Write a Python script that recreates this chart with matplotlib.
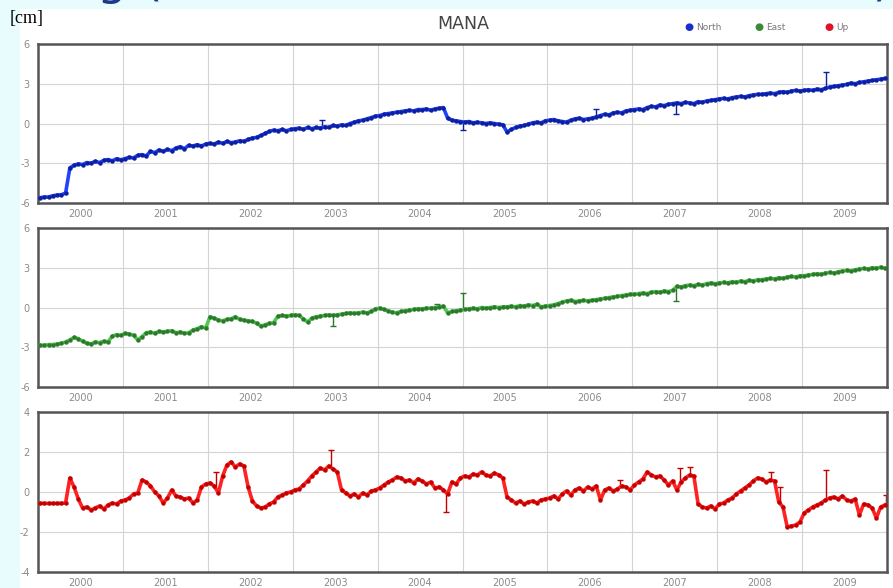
import numpy as np
import matplotlib
matplotlib.use("Agg")
import matplotlib.pyplot as plt
from matplotlib.patches import Rectangle

# ── Data (cm), sampled every 0.05 yr from 2000.025 ───────────────────────────
T0, DT, N = 2000.025, 0.05, 200

north = [
    -5.60, -5.55, -5.55, -5.45, -5.40, -5.38, -5.25, -3.35, -3.15, -3.05,
    -3.10, -2.95, -3.00, -2.85, -2.95, -2.78, -2.72, -2.82, -2.66, -2.74,
    -2.65, -2.55, -2.60, -2.40, -2.35, -2.45, -2.10, -2.20, -2.00, -2.10,
    -1.95, -2.05, -1.85, -1.75, -1.90, -1.65, -1.70, -1.60, -1.70, -1.55,
    -1.50, -1.55, -1.40, -1.50, -1.35, -1.45, -1.40, -1.30, -1.35, -1.20,
    -1.10, -1.05, -0.90, -0.75, -0.60, -0.50, -0.55, -0.45, -0.55, -0.45,
    -0.40, -0.35, -0.45, -0.30, -0.40, -0.30, -0.35, -0.25, -0.30, -0.15,
    -0.20, -0.10, -0.15, 0.00, 0.10, 0.20, 0.25, 0.35, 0.45, 0.55,
    0.60, 0.70, 0.75, 0.80, 0.85, 0.90, 0.95, 1.00, 0.95, 1.05,
    1.05, 1.10, 1.00, 1.10, 1.15, 1.20, 0.40, 0.25, 0.20, 0.15,
    0.10, 0.15, 0.05, 0.10, 0.05, 0.00, 0.05, 0.00, -0.05, -0.10,
    -0.65, -0.45, -0.30, -0.20, -0.15, -0.05, 0.05, 0.10, 0.05, 0.20,
    0.25, 0.30, 0.20, 0.15, 0.10, 0.25, 0.35, 0.40, 0.30, 0.35,
    0.40, 0.50, 0.60, 0.70, 0.65, 0.80, 0.85, 0.80, 0.95, 1.00,
    1.05, 1.10, 1.05, 1.20, 1.30, 1.25, 1.40, 1.35, 1.45, 1.50,
    1.55, 1.50, 1.60, 1.55, 1.50, 1.65, 1.60, 1.70, 1.75, 1.80,
    1.85, 1.90, 1.85, 1.95, 2.00, 2.05, 2.00, 2.10, 2.15, 2.20,
    2.20, 2.25, 2.30, 2.25, 2.35, 2.40, 2.35, 2.45, 2.50, 2.45,
    2.50, 2.55, 2.50, 2.60, 2.55, 2.65, 2.75, 2.80, 2.85, 2.90,
    2.95, 3.05, 3.00, 3.10, 3.15, 3.20, 3.25, 3.30, 3.35, 3.40,
]

east = [
    -2.85, -2.85, -2.80, -2.80, -2.75, -2.70, -2.60, -2.45, -2.25, -2.35,
    -2.55, -2.70, -2.75, -2.60, -2.65, -2.55, -2.60, -2.15, -2.05, -2.10,
    -1.95, -2.00, -2.10, -2.45, -2.20, -1.90, -1.85, -1.95, -1.80, -1.85,
    -1.80, -1.75, -1.90, -1.85, -1.95, -1.90, -1.70, -1.60, -1.45, -1.55,
    -0.70, -0.80, -0.95, -1.00, -0.90, -0.85, -0.70, -0.90, -0.95, -1.00,
    -1.05, -1.20, -1.40, -1.30, -1.20, -1.15, -0.65, -0.60, -0.65, -0.60,
    -0.55, -0.60, -0.85, -1.10, -0.80, -0.70, -0.65, -0.60, -0.55, -0.60,
    -0.55, -0.50, -0.45, -0.40, -0.45, -0.40, -0.35, -0.40, -0.30, -0.10,
    -0.05, -0.15, -0.25, -0.35, -0.40, -0.30, -0.25, -0.20, -0.15, -0.10,
    -0.10, -0.05, -0.05, 0.00, 0.05, 0.10, -0.40, -0.30, -0.25, -0.20,
    -0.15, -0.10, -0.05, -0.10, 0.00, -0.05, 0.00, 0.05, 0.00, 0.05,
    0.05, 0.10, 0.05, 0.15, 0.10, 0.20, 0.15, 0.25, 0.05, 0.10,
    0.15, 0.20, 0.30, 0.40, 0.50, 0.55, 0.45, 0.50, 0.55, 0.50,
    0.55, 0.60, 0.65, 0.70, 0.75, 0.80, 0.85, 0.90, 0.95, 1.00,
    1.00, 1.05, 1.10, 1.05, 1.15, 1.20, 1.15, 1.25, 1.20, 1.30,
    1.60, 1.55, 1.65, 1.70, 1.65, 1.75, 1.70, 1.80, 1.85, 1.80,
    1.85, 1.90, 1.85, 1.95, 1.90, 2.00, 1.95, 2.05, 2.00, 2.10,
    2.10, 2.15, 2.20, 2.15, 2.25, 2.20, 2.30, 2.35, 2.30, 2.40,
    2.40, 2.45, 2.50, 2.55, 2.50, 2.60, 2.65, 2.60, 2.70, 2.75,
    2.80, 2.75, 2.85, 2.90, 2.95, 2.90, 3.00, 2.95, 3.05, 2.95,
]

up = [
    -0.57, -0.57, -0.57, -0.57, -0.57, -0.57, -0.55, 0.70, 0.25, -0.35,
    -0.80, -0.75, -0.90, -0.80, -0.70, -0.85, -0.65, -0.55, -0.60, -0.45,
    -0.40, -0.30, -0.10, -0.05, 0.60, 0.50, 0.30, 0.00, -0.20, -0.55,
    -0.30, 0.10, -0.20, -0.25, -0.35, -0.30, -0.55, -0.40, 0.25, 0.40,
    0.45, 0.30, -0.05, 0.80, 1.35, 1.50, 1.25, 1.40, 1.30, 0.25,
    -0.45, -0.70, -0.80, -0.75, -0.60, -0.50, -0.25, -0.15, -0.05, 0.00,
    0.10, 0.15, 0.35, 0.55, 0.80, 1.00, 1.20, 1.10, 1.30, 1.15,
    1.00, 0.10, -0.05, -0.20, -0.10, -0.25, -0.05, -0.15, 0.05, 0.10,
    0.20, 0.35, 0.50, 0.60, 0.75, 0.70, 0.55, 0.60, 0.45, 0.65,
    0.55, 0.40, 0.50, 0.20, 0.25, 0.10, -0.10, 0.50, 0.40, 0.70,
    0.80, 0.75, 0.90, 0.85, 1.00, 0.85, 0.80, 0.95, 0.85, 0.70,
    -0.25, -0.40, -0.55, -0.45, -0.60, -0.50, -0.45, -0.55, -0.40, -0.35,
    -0.30, -0.20, -0.35, -0.10, 0.05, -0.15, 0.10, 0.20, 0.05, 0.25,
    0.15, 0.30, -0.40, 0.10, 0.20, 0.05, 0.15, 0.30, 0.25, 0.10,
    0.35, 0.50, 0.65, 1.00, 0.85, 0.75, 0.80, 0.60, 0.35, 0.55,
    0.10, 0.50, 0.70, 0.85, 0.80, -0.60, -0.75, -0.80, -0.70, -0.85,
    -0.60, -0.55, -0.40, -0.30, -0.10, 0.05, 0.20, 0.35, 0.55, 0.70,
    0.65, 0.50, 0.60, 0.55, -0.50, -0.75, -1.75, -1.70, -1.65, -1.50,
    -1.05, -0.90, -0.75, -0.65, -0.55, -0.40, -0.30, -0.25, -0.35, -0.20,
    -0.40, -0.45, -0.35, -1.15, -0.60, -0.65, -0.80, -1.30, -0.75, -0.65,
]

# outlier epochs and tip values
north_spk_t = [2003.35, 2005.00, 2006.57, 2007.52, 2009.28]
north_spk_v = [0.30, -0.50, 1.10, 0.70, 3.90]
east_spk_t = [2003.47, 2004.70, 2005.00, 2007.52]
east_spk_v = [-1.40, 0.25, 1.10, 0.50]
up_spk_t = [2002.10, 2003.45, 2004.80, 2006.85, 2007.56, 2007.68, 2008.63, 2008.74, 2009.28, 2009.99]
up_spk_v = [1.00, 2.10, -1.00, 0.60, 1.20, 1.25, 1.00, 0.25, 1.10, -0.15]

years = list(range(2000, 2010))

# ── Styling ──────────────────────────────────────────────────────────────────
W, H = 893, 588
BG = "#e8fcfd"
TICK_C = "#8a8a8a"

panels = [
    dict(v=north, st=north_spk_t, sv=north_spk_v, lim=6, yt=[-6, -3, 0, 3, 6],
         line="#2142ff", mk="#0c1f9e", top=44, bot=203),
    dict(v=east, st=east_spk_t, sv=east_spk_v, lim=6, yt=[-6, -3, 0, 3, 6],
         line="#52c752", mk="#2a7a2a", top=228, bot=387),
    dict(v=up, st=up_spk_t, sv=up_spk_v, lim=4, yt=[-4, -2, 0, 2, 4],
         line="#ff2222", mk="#c20000", top=412, bot=572),
]

fig = plt.figure(figsize=(W / 100, H / 100), dpi=100, facecolor=BG)

# partial slide heading cut off at the top
for ch, px in [("g", 96), ("(", 144), (")", 872)]:
    fig.text(px / W, 1 + 6 / H, ch, fontsize=34, color="#1c3a8a",
             va="baseline", ha="left", zorder=-2)
fig.patches.append(Rectangle((20 / W, 0), 1 - 20 / W, 1 - 9 / H,
                             transform=fig.transFigure, fc="white", ec="none",
                             zorder=-1))

t = T0 + DT * np.arange(N)
left, right = 38 / W, 887 / W

for p in panels:
    ax = fig.add_axes([left, 1 - p["bot"] / H, right - left, (p["bot"] - p["top"]) / H])
    ax.set_facecolor("white")
    v = np.array(p["v"])
    base = np.interp(p["st"], t, v)
    ax.vlines(p["st"], base, p["sv"], color=p["mk"], lw=1.0, zorder=2)
    ax.plot(p["st"], p["sv"], ls="none", marker="_", ms=4, mew=1.0, color=p["mk"], zorder=2)
    ax.plot(t, v, "-", color=p["line"], lw=2.6, marker="o", ms=2.8,
            mfc=p["mk"], mec=p["mk"], mew=0.3, zorder=3)

    ax.set_xlim(2000, 2010)
    ax.set_ylim(-p["lim"], p["lim"])
    ax.set_xticks(years[1:])
    ax.set_xticklabels([])
    ax.set_xticks([y + 0.5 for y in years], [str(y) for y in years], minor=True)
    ax.set_yticks(p["yt"], [str(y) for y in p["yt"]])
    ax.grid(True, which="major", color="#d4d4d4", lw=0.8)
    ax.tick_params(which="both", length=0, labelsize=7, labelcolor=TICK_C)
    ax.tick_params(axis="x", which="minor", pad=4)
    ax.tick_params(axis="y", pad=6)
    for s in ax.spines.values():
        s.set_color("#555555")
        s.set_linewidth(1.8)

# titles and legend
fig.text(10 / W, 1 - 18 / H, "[cm]", fontsize=13, family="Liberation Serif",
         color="black", va="center", ha="left")
fig.text(463 / W, 1 - 24 / H, "MANA", fontsize=12.5, color="#444444",
         va="center", ha="center")
for lbl, col, px in [("North", "#1a2ecc", 689), ("East", "#3a8a3a", 759), ("Up", "#e0102a", 829)]:
    fig.text(px / W, 1 - 27 / H, "\u25CF", fontsize=7.5, color=col, va="center", ha="center")
    fig.text((px + 7) / W, 1 - 27 / H, lbl, fontsize=6.5, color="#777777",
             va="center", ha="left")

plt.savefig("out.png", dpi=100, facecolor=BG)
plt.close()
